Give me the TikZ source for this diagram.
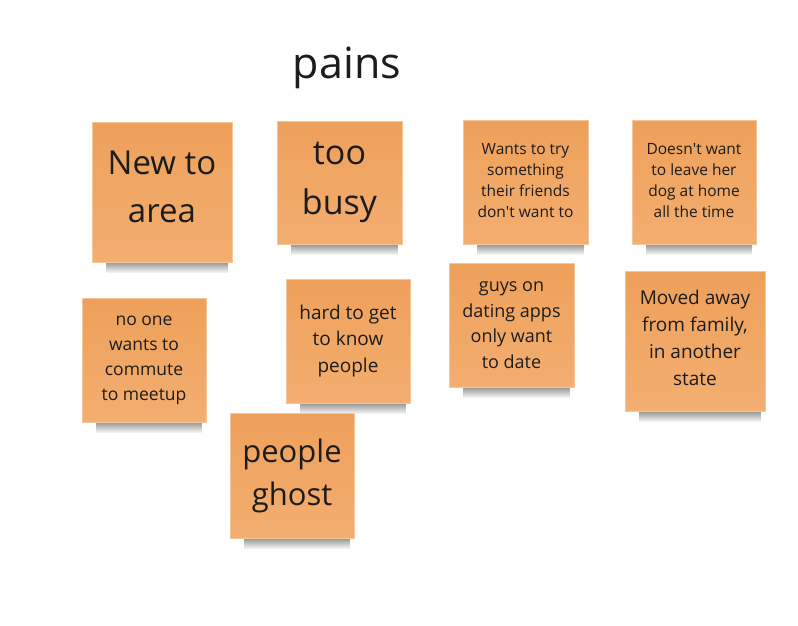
\documentclass[tikz,border=0pt]{standalone}
\usepackage{fontspec}
\setmainfont{Open Sans}
\usetikzlibrary{backgrounds, fadings}

\definecolor{notetop}{RGB}{238,160,90}
\definecolor{notebot}{RGB}{243,174,112}
\definecolor{noteedge}{RGB}{246,198,155}
\definecolor{ink}{RGB}{28,28,28}

\tikzset{
  note/.style={rectangle, top color=notetop, bottom color=notebot,
    draw=noteedge, line width=0.6pt, align=center, inner sep=0pt, text=ink},
  noteshadow/.style={fill=black, opacity=0.45, path fading=south},
}
\newcommand{\fsz}[2]{\fontsize{#1}{#2}\selectfont}

\begin{document}
\begin{tikzpicture}[x=1pt, y=-1pt]
    \useasboundingbox (0, 0) rectangle (798, 626);

    \node [anchor=base, text=ink, font=\fsz{43}{50}] (title) at (347, 78) {pains};

    % top row
    \node [note, minimum width=140pt, minimum height=140pt, font=\fsz{33}{48}] (n1) at (162, 192)
      {New to\\area\\[-38pt]};
    \node [note, minimum width=125pt, minimum height=123pt, font=\fsz{34}{50}] (n2) at (339.5, 182.5)
      {too\\busy};
    \node [note, minimum width=125pt, minimum height=124pt, font=\fsz{15.5}{21}] (n3) at (525.5, 182)
      {Wants to try\\something\\their friends\\don\textquotesingle t want to\\[-17pt]};
    \node [note, minimum width=124pt, minimum height=124pt, font=\fsz{15.5}{21}] (n4) at (694, 182)
      {Doesn\textquotesingle t want\\to leave her\\dog at home\\all the time\\[-17pt]};

    % second row
    \node [note, minimum width=124pt, minimum height=124pt, font=\fsz{17.5}{25}] (n5) at (144, 360)
      {no one\\wants to\\commute\\to meetup};
    \node [note, minimum width=124pt, minimum height=124pt, font=\fsz{19}{26.5}] (n6) at (348, 341)
      {hard to get\\to know\\people};
    \node [note, minimum width=125pt, minimum height=124pt, font=\fsz{18}{25.5}] (n8) at (511.5, 325)
      {guys on\\dating apps\\only want\\to date};
    \node [note, minimum width=140pt, minimum height=140pt, font=\fsz{19}{27}] (n9) at (695, 341)
      {Moved away\\from family,\\in another\\state\\[-21pt]};

    % last one
    \node [note, minimum width=124pt, minimum height=125pt, font=\fsz{31}{43}] (n7) at (292, 475.5)
      {people\\ghost};

    % soft shadows under the notes
    \begin{pgfonlayer}{background}
      \foreach \n in {n1,n2,n3,n4,n5,n6,n7,n8,n9}
        \fill [noteshadow] ([xshift=14pt, yshift=1pt]\n.south west) rectangle ([xshift=-4pt, yshift=-11pt]\n.south east);
    \end{pgfonlayer}
\end{tikzpicture}
\end{document}
